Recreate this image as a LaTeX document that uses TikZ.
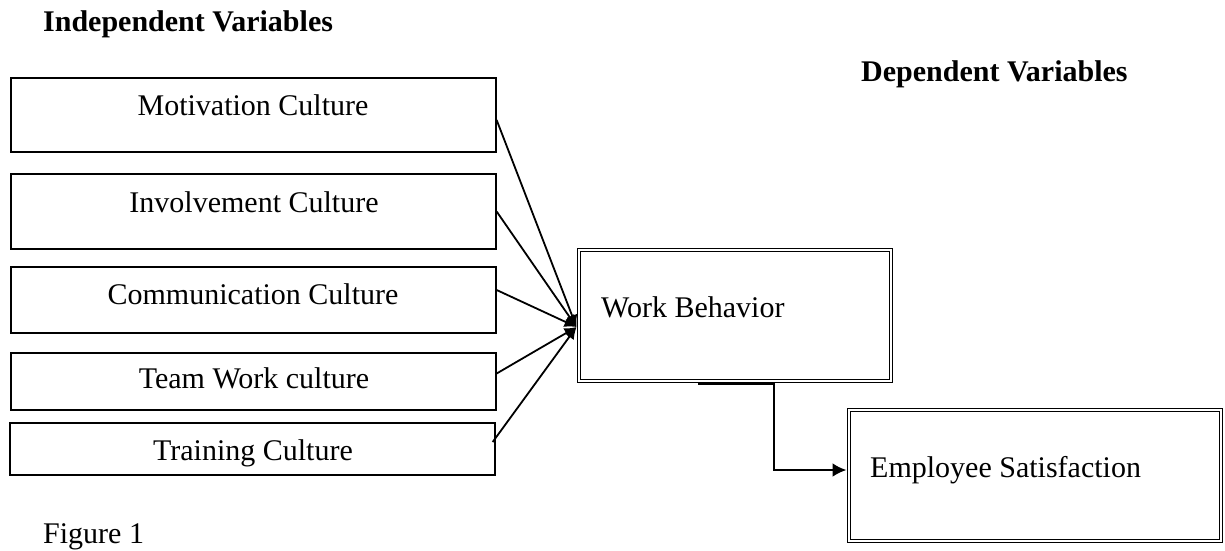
\documentclass[tikz,border=0pt]{standalone}
\usepackage{fontspec}
\setmainfont{Liberation Serif}
\usetikzlibrary{arrows.meta,calc}
\begin{document}
\begin{tikzpicture}[x=1pt,y=-1pt,
  ibox/.style={draw, line width=1.3pt, rectangle, inner sep=0pt, minimum width=485pt},
  dbox/.style={draw, double, double distance=1.8pt, line width=1pt, rectangle, inner sep=0pt},
  txt/.style={font=\fontsize{30}{36}\selectfont, inner sep=0pt, anchor=base},
  head/.style={font=\fontsize{30}{36}\selectfont\bfseries, inner sep=0pt, anchor=base west},
  feed/.style={line width=1.8pt, -{Latex[length=12pt,width=11pt]}},
  flow/.style={line width=2.6pt, -{Latex[length=14pt,width=14pt]}}]
\useasboundingbox (0,0) rectangle (1225,550);

\node[head] (indep) at (43,31) {Independent Variables};
\node[head] (dep) at (861,81) {Dependent Variables};
\node[txt, anchor=base west] (fig) at (43,543) {Figure 1};

\node[ibox, minimum height=74pt] (b1) at (253.5,115) {};
\node[ibox, minimum height=75pt] (b2) at (253.5,211.5) {};
\node[ibox, minimum height=66pt] (b3) at (253.5,300) {};
\node[ibox, minimum height=57pt] (b4) at (253.5,381.5) {};
\node[ibox, minimum height=52pt] (b5) at (252.5,449) {};

\node[txt] (t1) at (253,115) {Motivation Culture};
\node[txt] (t2) at (254,212) {Involvement Culture};
\node[txt] (t3) at (253,304) {Communication Culture};
\node[txt] (t4) at (254,388) {Team Work culture};
\node[txt] (t5) at (253,460) {Training Culture};

\node[dbox, minimum width=312pt, minimum height=131pt] (wb) at (735,315.5) {};
\node[txt, anchor=base west] (twb) at (601,317) {Work Behavior};

\node[dbox, minimum width=372pt, minimum height=131pt] (es) at (1035,475.5) {};
\node[txt, anchor=base west] (tes) at (870,477) {Employee Satisfaction};

\coordinate (hub) at ($(wb.west)+(-2,11.5)$);
\draw[feed] ($(b1.east)+(0,5)$) -- (hub);
\draw[feed] (b2.east) -- (hub);
\draw[feed] ($(b3.east)+(0,-10)$) -- (hub);
\draw[feed] ($(b4.east)+(0,-8)$) -- (hub);
\draw[feed] ($(b5.east)+(-3,-7)$) -- (hub);

\draw[flow] ($(wb.south)+(-37,2)$) -- ($(wb.south)+(39,2)$) |- ($(es.west)+(-2,-5.5)$);
\end{tikzpicture}
\end{document}
